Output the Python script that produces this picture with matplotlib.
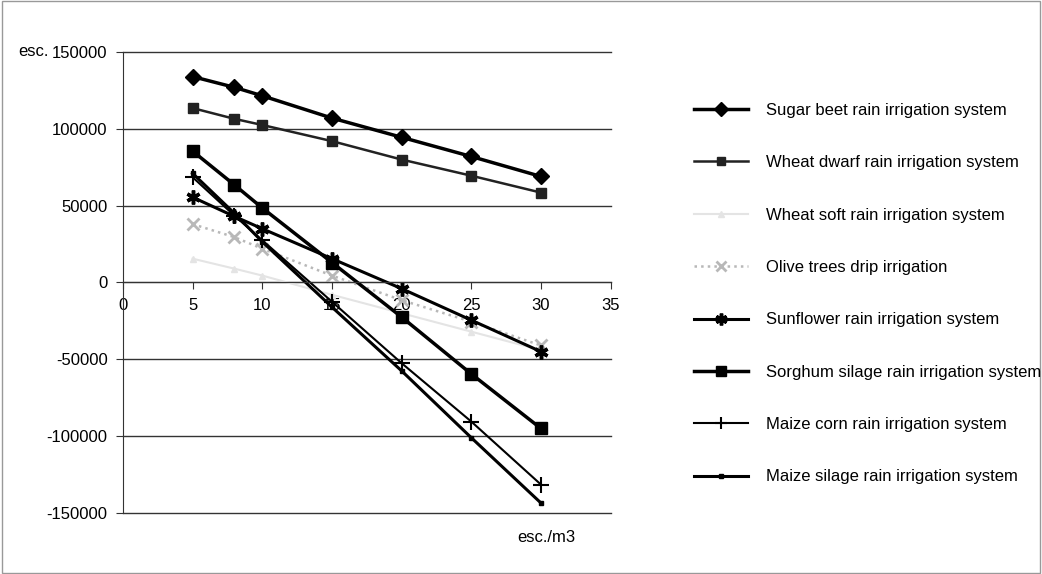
import matplotlib
matplotlib.use("Agg")
import matplotlib.pyplot as plt
from matplotlib.patches import Rectangle

plt.rcParams["font.family"] = ["Liberation Sans", "DejaVu Sans"]
plt.rcParams["axes.unicode_minus"] = False

x = [5, 8, 10, 15, 20, 25, 30]

sugar_beet    = [134000, 127000, 121500, 107000, 94500, 82000, 69000]
wheat_dwarf   = [113500, 106500, 102500, 92000, 80000, 69500, 58500]
wheat_soft    = [15500, 9000, 4500, -8000, -20000, -32000, -44000]
olive_trees   = [38000, 29500, 22000, 4500, -11500, -25500, -41000]
sunflower     = [55500, 43000, 35000, 15500, -4000, -24500, -45000]
sorghum       = [85500, 63500, 48500, 13000, -22500, -59500, -95000]
maize_corn    = [68500, 43500, 27500, -12500, -52500, -90500, -131500]
maize_silage  = [71000, 45000, 26500, -16000, -57500, -101000, -143500]

labels = [
    "Sugar beet rain irrigation system",
    "Wheat dwarf rain irrigation system",
    "Wheat soft rain irrigation system",
    "Olive trees drip irrigation",
    "Sunflower rain irrigation system",
    "Sorghum silage rain irrigation system",
    "Maize corn rain irrigation system",
    "Maize silage rain irrigation system",
]

fig = plt.figure(figsize=(10.42, 5.74), dpi=100)
fig.patches.append(Rectangle((0.002, 0.002), 0.996, 0.996, transform=fig.transFigure,
                             fill=False, edgecolor="#999999", lw=1))
ax = fig.add_axes([0.118, 0.1063, 0.468, 0.8031])

ax.plot(x, sugar_beet, color="black", lw=2.5, marker="D", ms=8, label=labels[0])
ax.plot(x, wheat_dwarf, color="#222222", lw=1.8, marker="s", ms=7, label=labels[1])
ax.plot(x, wheat_soft, color="#e4e4e4", lw=1.5, marker="^", ms=5, label=labels[2])
ax.plot(x, olive_trees, color="#b8b8b8", lw=1.8, ls=":", marker="x", ms=8, mew=2,
        label=labels[3])
ax.plot(x, sunflower, color="black", lw=2.2, marker=(6, 2, 0), ms=10, mew=2.5,
        label=labels[4])
ax.plot(x, sorghum, color="black", lw=2.5, marker="s", ms=9, label=labels[5])
ax.plot(x, maize_corn, color="black", lw=1.5, marker="+", ms=11, mew=1.5, label=labels[6])
ax.plot(x, maize_silage, color="black", lw=2.2, marker="s", ms=3, label=labels[7])

ax.set_xlim(0, 35)
ax.set_ylim(-150000, 150000)
ax.set_xticks(range(0, 36, 5))
ax.set_yticks(range(-150000, 150001, 50000))
ax.yaxis.grid(True, color="#333333", lw=1)
for gl in ax.get_ygridlines():
    gl.set_clip_on(False)
ax.set_axisbelow(True)

for s in ["top", "right"]:
    ax.spines[s].set_visible(False)
ax.spines["bottom"].set_position(("data", 0))
ax.spines["bottom"].set_color("#333333")
ax.spines["left"].set_color("#333333")
ax.tick_params(axis="x", direction="out", length=5, pad=6, labelsize=12, color="#333333")
ax.tick_params(axis="y", direction="out", length=5, pad=6, labelsize=12, color="#333333")

fig.text(18 / 1042, 1 - 52 / 574, "esc.", fontsize=12, va="center", ha="left")
fig.text(575 / 1042, 1 - 537 / 574, "esc./m3", fontsize=12, va="center", ha="right")

leg = fig.legend(loc="upper left", bbox_to_anchor=(694 / 1042, 1 - 103 / 574),
                 frameon=False, fontsize=12, borderpad=0, borderaxespad=0,
                 labelspacing=2.24, handlelength=3.24, handletextpad=1.1,
                 markerscale=0.85)

fig.savefig("out.png", dpi=100)
